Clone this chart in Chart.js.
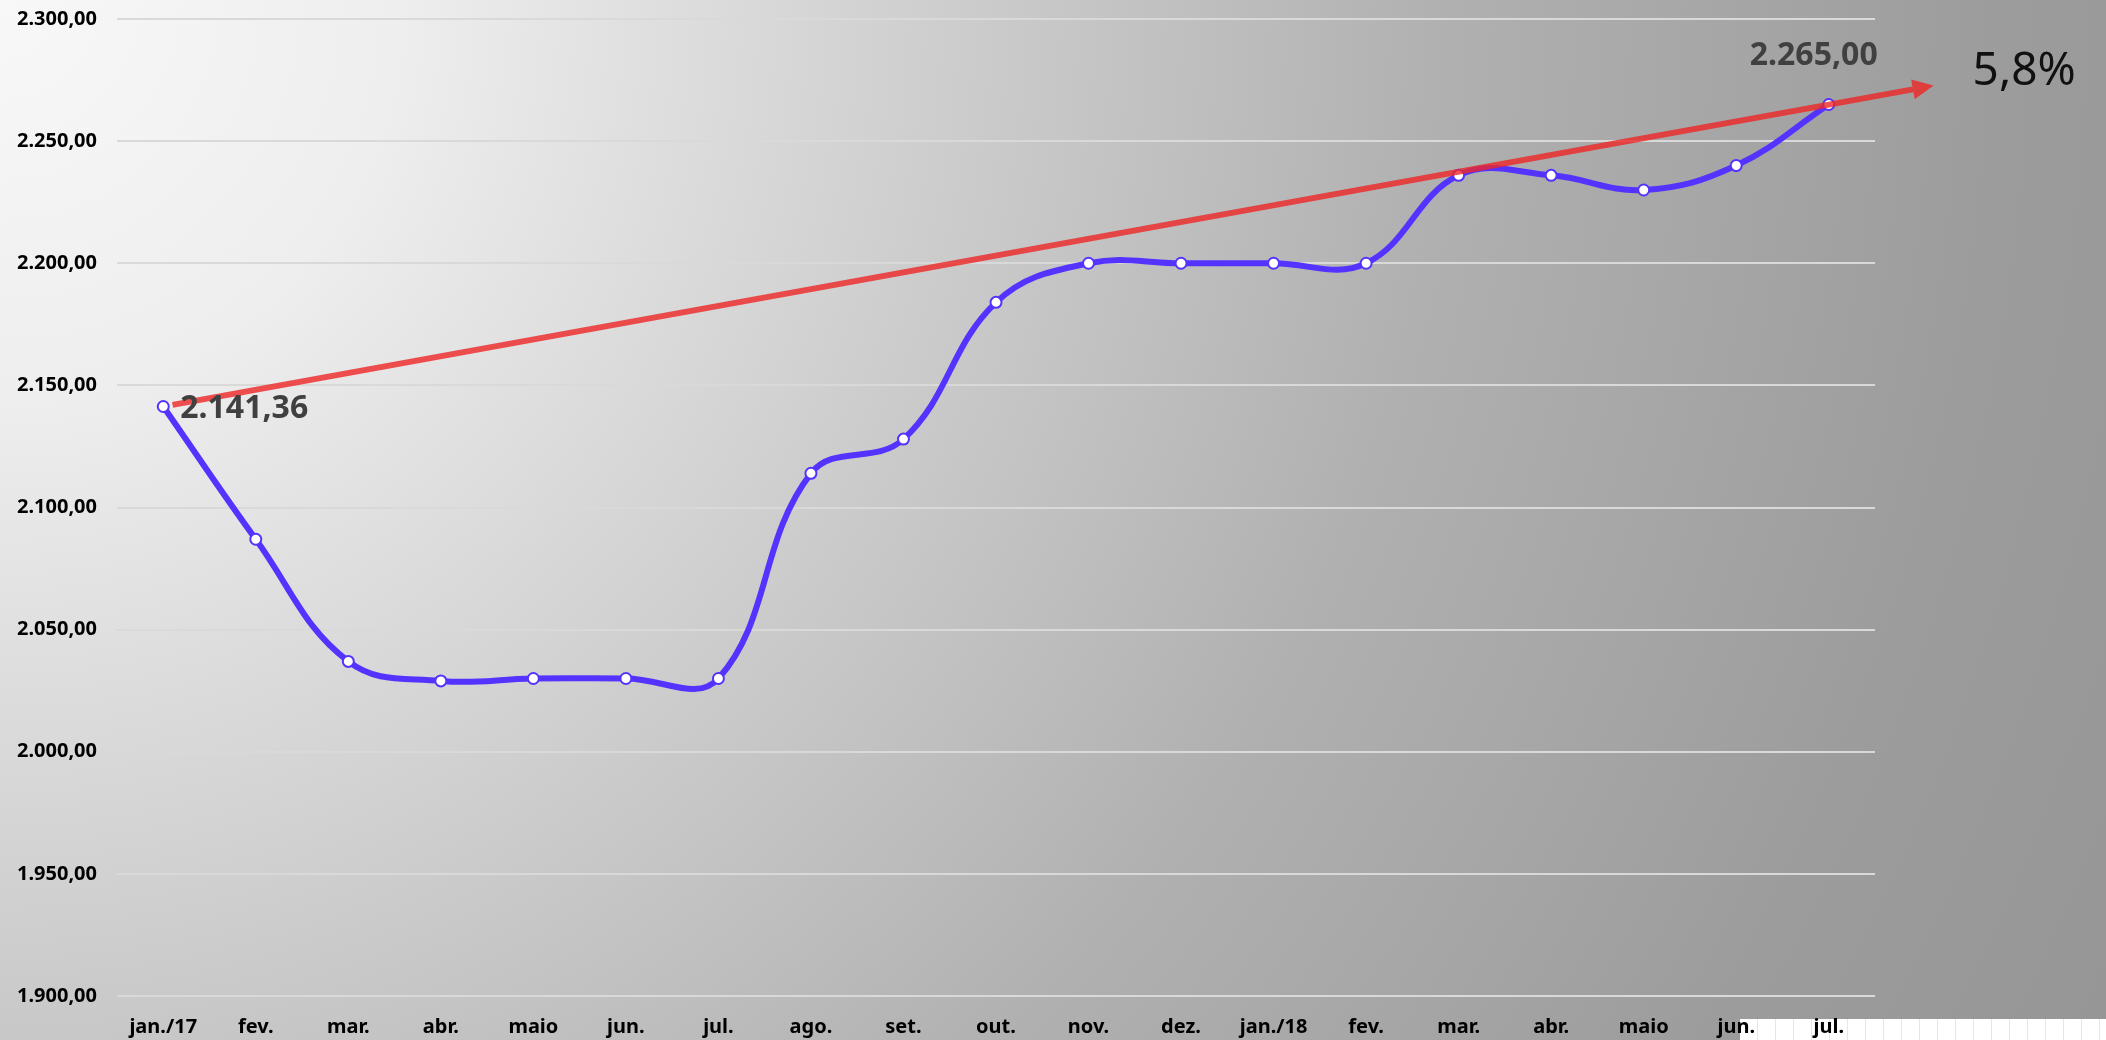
<!DOCTYPE html>
<html>
<head>
    <title>Evolução 2017 - 2018</title>
    <style>
        html, body {
            margin: 0;
            padding: 0;
        }

        body {
            width: 2106px;
            height: 1040px;
            overflow: hidden;
            position: relative;
            font-family: "Noto Sans", sans-serif;
            background: radial-gradient(circle at 0 0, #f8f8f8 0px, #eeeeee 400px, #cacaca 1000px, #b0b0b0 1450px, #9c9c9c 2000px, #959595 2400px);
        }

        /* the bit of spreadsheet showing under the chart, bottom right */
        #sheet {
            position: absolute;
            left: 1740px;
            top: 1019px;
            width: 366px;
            height: 21px;
            background-color: #fff;
            background-image: repeating-linear-gradient(to right, transparent 0 17px, #e6e6e6 17px 18px);
        }

        #chart {
            position: absolute;
            left: 0;
            top: 0;
        }
    </style>
</head>
<body>
    <div id="sheet"></div>
    <canvas id="chart" width="2106" height="1040"></canvas>

    <script src="https://cdn.jsdelivr.net/npm/chart.js"></script>
    <script>
        // months on the x axis
        const months = ['jan./17', 'fev.', 'mar.', 'abr.', 'maio', 'jun.', 'jul.', 'ago.', 'set.', 'out.',
                        'nov.', 'dez.', 'jan./18', 'fev.', 'mar.', 'abr.', 'maio', 'jun.', 'jul.'];
        // monthly values
        const values = [2141.36, 2087, 2037, 2029, 2030, 2030, 2030, 2114, 2128, 2184,
                        2200, 2200, 2200, 2200, 2236, 2236, 2230, 2240, 2265];
        // red trend arrow (x in month index units)
        const trendX = [0.1, 18.91];
        const trendY = [2142, 2271.2];
        const growthText = '5,8%';
        // y axis range
        const yMin = 1900;
        const yMax = 2300;
        const yStep = 50;

        const blue = '#5533ff';
        const red = 'rgba(238, 38, 38, 0.8)';

        function fmt(v) {
            const parts = v.toFixed(2).split('.');
            return parts[0].replace(/\B(?=(\d{3})+(?!\d))/g, '.') + ',' + parts[1];
        }

        const trendData = trendX.map((x, i) => ({ x: x, y: trendY[i] }));

        // arrow head + labels
        const extrasPlugin = {
            id: 'extras',
            afterDatasetsDraw(chart) {
                const ctx = chart.ctx;
                const trend = chart.getDatasetMeta(0).data;
                const a = trend[trend.length - 2];
                const b = trend[trend.length - 1];
                const ang = Math.atan2(b.y - a.y, b.x - a.x);

                ctx.save();
                ctx.translate(b.x, b.y);
                ctx.rotate(ang);
                ctx.fillStyle = red;
                ctx.beginPath();
                ctx.moveTo(21, 0);
                ctx.lineTo(0, -10);
                ctx.lineTo(0, 10);
                ctx.closePath();
                ctx.fill();
                ctx.restore();

                const tipX = b.x + 21 * Math.cos(ang);
                const tipY = b.y + 21 * Math.sin(ang);

                const pts = chart.getDatasetMeta(1).data;
                const first = pts[0];
                const last = pts[pts.length - 1];

                ctx.save();
                ctx.font = 'bold 32px "Noto Sans"';
                ctx.fillStyle = '#404040';
                ctx.textBaseline = 'middle';
                ctx.textAlign = 'left';
                ctx.fillText(fmt(values[0]), first.x + 17, first.y + 2);
                ctx.textAlign = 'center';
                ctx.fillText(fmt(values[values.length - 1]), last.x - 15, last.y - 49);

                ctx.font = '46px "Noto Sans"';
                ctx.fillStyle = '#111';
                ctx.textAlign = 'left';
                ctx.fillText(growthText, tipX + 39, tipY - 14);
                ctx.restore();
            }
        };

        const ctx = document.getElementById('chart').getContext('2d');
        const chart = new Chart(ctx, {
            type: 'line',
            data: {
                labels: months,
                datasets: [
                    {
                        label: 'Tendência',
                        data: trendData,
                        xAxisID: 'x2',
                        borderColor: red,
                        borderWidth: 6,
                        pointRadius: 0,
                        tension: 0,
                        clip: false,
                        order: 0
                    },
                    {
                        label: 'Valor',
                        data: values,
                        borderColor: blue,
                        borderWidth: 6,
                        pointRadius: 5.5,
                        pointBorderWidth: 2,
                        pointBackgroundColor: '#fff',
                        pointBorderColor: blue,
                        tension: 0.4,
                        order: 1
                    }
                ]
            },
            options: {
                responsive: false,
                animation: false,
                layout: {
                    padding: { top: 19, right: 231, left: 0, bottom: 0 }
                },
                plugins: {
                    legend: { display: false },
                    tooltip: { enabled: false }
                },
                scales: {
                    x: {
                        type: 'category',
                        offset: true,
                        grid: { display: false },
                        border: { display: false },
                        ticks: {
                            autoSkip: false,
                            maxRotation: 0,
                            padding: 11,
                            color: '#000',
                            font: { family: 'Noto Sans', size: 20, weight: 'bold' }
                        },
                        afterFit(scale) {
                            scale.height = 44;
                        }
                    },
                    x2: {
                        type: 'linear',
                        axis: 'x',
                        position: 'bottom',
                        display: false,
                        min: -0.5,
                        max: months.length - 0.5
                    },
                    y: {
                        min: yMin,
                        max: yMax,
                        grid: {
                            color: '#d9d9d9',
                            lineWidth: 2,
                            drawTicks: false
                        },
                        border: { display: false },
                        ticks: {
                            stepSize: yStep,
                            padding: 20,
                            color: '#000',
                            font: { family: 'Noto Sans', size: 20, weight: 'bold' },
                            callback: v => fmt(v)
                        },
                        afterFit(scale) {
                            scale.width = 117;
                            scale.paddingTop = 0;
                        }
                    }
                }
            },
            plugins: [extrasPlugin]
        });
    </script>
</body>
</html>
